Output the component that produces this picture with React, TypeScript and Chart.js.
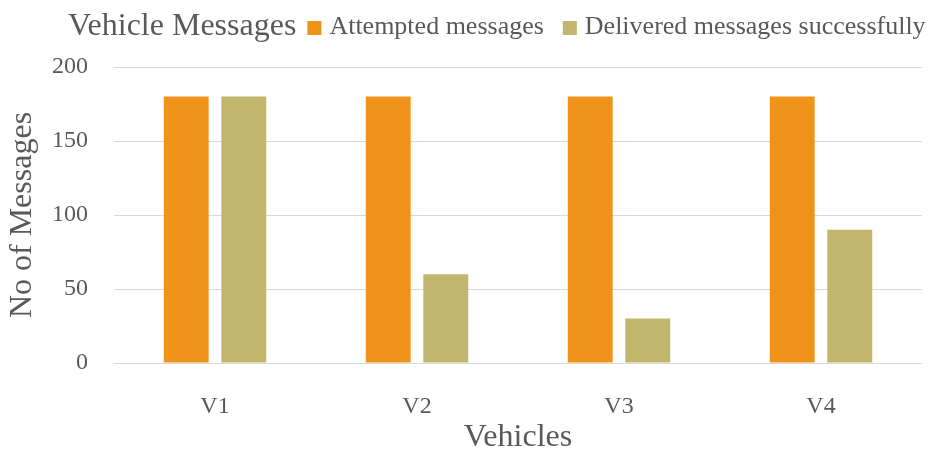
import React, { useEffect, useRef } from "react";
import { Chart, registerables } from "chart.js";

Chart.register(...registerables);

const chartTitle = "Vehicle Messages";
const categories = ["V1", "V2", "V3", "V4"];
const attempted = [180, 180, 180, 180];
const delivered = [180, 60, 30, 90];
const seriesNames = ["Attempted messages", "Delivered messages successfully"];
const seriesColors = ["#F0931A", "#C2B56C"];
const yTicks = [0, 50, 100, 150, 200];
const yTitle = "No of Messages";
const xTitle = "Vehicles";

const FONT = "'Liberation Serif', 'Times New Roman', serif";
const TEXT = "#595959";

const headerPlugin = {
  id: "headerLegend",
  afterDraw(chart: any) {
    const ctx = chart.ctx;
    ctx.save();
    ctx.fillStyle = TEXT;
    ctx.textBaseline = "alphabetic";
    ctx.textAlign = "left";
    ctx.font = `32px ${FONT}`;
    const baseline = 35;
    let x = 68;
    ctx.fillText(chartTitle, x, baseline);
    x += ctx.measureText(chartTitle).width + 11;
    ctx.font = `26px ${FONT}`;
    chart.data.datasets.forEach((ds: any, i: number) => {
      ctx.fillStyle = ds.backgroundColor;
      ctx.fillRect(x, baseline - 14, 14, 14);
      x += 22;
      ctx.fillStyle = TEXT;
      ctx.fillText(ds.label, x, baseline - 1);
      x += ctx.measureText(ds.label).width + (i === 0 ? 19 : 0);
    });
    ctx.restore();
  },
};

export default function App() {
  const ref = useRef<HTMLCanvasElement | null>(null);
  useEffect(() => {
    if (!ref.current) return;
    Chart.defaults.font.family = FONT;
    const chart = new Chart(ref.current, {
      type: "bar",
      data: {
        labels: categories,
        datasets: [
          {
            label: seriesNames[0],
            data: attempted,
            backgroundColor: seriesColors[0],
            categoryPercentage: 0.57,
            barPercentage: 0.78,
          },
          {
            label: seriesNames[1],
            data: delivered,
            backgroundColor: seriesColors[1],
            categoryPercentage: 0.57,
            barPercentage: 0.78,
          },
        ],
      },
      options: {
        animation: false,
        responsive: true,
        maintainAspectRatio: false,
        layout: { padding: { top: 67, right: 8, bottom: 0, left: 0 } },
        plugins: {
          legend: { display: false },
          title: { display: false },
          tooltip: { enabled: false },
        },
        scales: {
          x: {
            grid: { display: false, drawTicks: false },
            border: { display: false },
            ticks: {
              color: TEXT,
              font: { size: 24, family: FONT },
              padding: 29,
            },
            title: {
              display: true,
              text: xTitle,
              color: TEXT,
              font: { size: 32, family: FONT, lineHeight: 0.9 },
              padding: { top: 0, bottom: -2 },
            },
            afterFit: (s: any) => {
              s.height = 87;
            },
          },
          y: {
            min: 0,
            max: 200,
            afterBuildTicks: (s: any) => {
              s.ticks = yTicks.map((v) => ({ value: v }));
            },
            grid: { color: "#D9D9D9", lineWidth: 1, drawTicks: false },
            border: { display: false },
            ticks: {
              color: TEXT,
              font: { size: 24, family: FONT },
              padding: 26,
            },
            title: {
              display: true,
              text: yTitle,
              color: TEXT,
              font: { size: 32, family: FONT },
              padding: { top: 3, bottom: 0 },
            },
            afterFit: (s: any) => {
              s.width = 114;
            },
          },
        },
      },
      plugins: [headerPlugin],
    });
    return () => chart.destroy();
  }, []);
  return (
    <div style={{ position: "fixed", left: 0, top: 0, width: 930, height: 450, background: "#fff" }}>
      <canvas ref={ref} />
    </div>
  );
}
